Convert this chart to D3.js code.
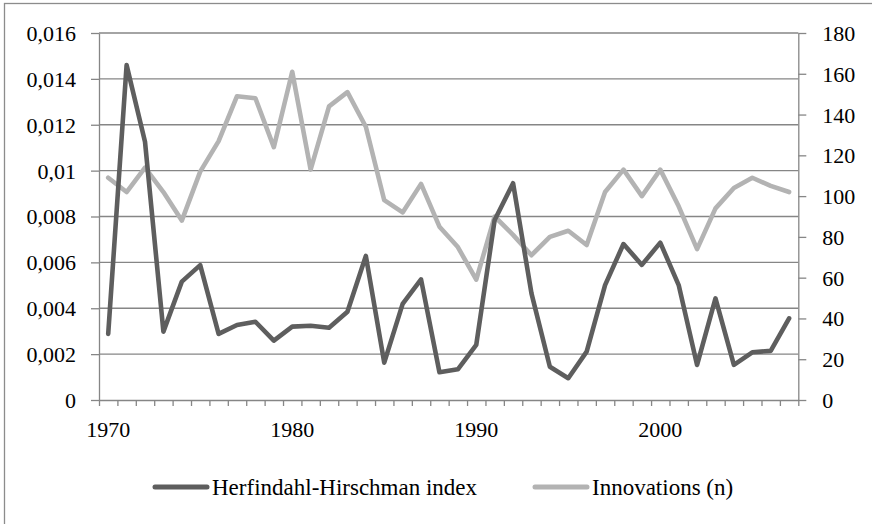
<!DOCTYPE html>
<html lang="en">
<head>
<meta charset="UTF-8">
<title>HHI and innovations</title>
<script src="https://d3js.org/d3.v7.min.js"></script>
<style>
  html, body { margin: 0; padding: 0; background: white; }
  body { font-family: "Liberation Serif", "Times New Roman", "DejaVu Serif", Times, serif; }
  .axis text { font-family: "Liberation Serif", "Times New Roman", "DejaVu Serif", Times, serif; font-size: 22px; fill: #000; }
  .axis path, .axis line { stroke: #868686; stroke-width: 1.3px; }
  .grid line { stroke: #868686; stroke-width: 1.3px; }
  .legend text { font-family: "Liberation Serif", "Times New Roman", "DejaVu Serif", Times, serif; font-size: 23px; fill: #000; }
</style>
</head>
<body>
<div id="chart"></div>
<script>

// ---------- data ----------
var years = [1970, 1971, 1972, 1973, 1974, 1975, 1976, 1977, 1978, 1979,
             1980, 1981, 1982, 1983, 1984, 1985, 1986, 1987, 1988, 1989,
             1990, 1991, 1992, 1993, 1994, 1995, 1996, 1997, 1998, 1999,
             2000, 2001, 2002, 2003, 2004, 2005, 2006, 2007];

var hhi = [0.00288, 0.0146, 0.01126, 0.00298, 0.00516, 0.00588, 0.00288, 0.00327, 0.00341, 0.00259,
           0.0032, 0.00324, 0.00315, 0.00385, 0.00628, 0.00163, 0.00419, 0.00526, 0.00121, 0.00134,
           0.0024, 0.00785, 0.00945, 0.00465, 0.00145, 0.00095, 0.00211, 0.00501, 0.0068, 0.00589,
           0.00686, 0.00501, 0.00153, 0.00443, 0.00153, 0.00208, 0.00214, 0.00356];

var innovations = [109, 102, 114, 102, 88, 112, 127, 149, 148, 124,
                   161, 113, 144, 151, 134, 98, 92, 106, 85, 75,
                   59, 90, 81, 71, 80, 83, 76, 102, 113, 100,
                   113, 95, 74, 94, 104, 109, 105, 102];

var leftTicks = [0, 0.002, 0.004, 0.006, 0.008, 0.01, 0.012, 0.014, 0.016];
var rightTicks = [0, 20, 40, 60, 80, 100, 120, 140, 160, 180];
var yearLabels = [1970, 1980, 1990, 2000];

var seriesNames = ["Herfindahl-Hirschman index", "Innovations (n)"];
var seriesColors = ["#5e5e5e", "#b3b3b3"];

// ---------- size ----------
var totalWidth = 872, totalHeight = 524;
var plot = {left: 99, right: 798.3, top: 33, bottom: 400};

var svg = d3.select("#chart").append("svg")
  .attr("width", totalWidth)
  .attr("height", totalHeight);

// outer frame (cropped at right / bottom like the source)
svg.append("rect")
  .attr("x", 4.5).attr("y", 3.5)
  .attr("width", 900).attr("height", 560)
  .attr("fill", "white")
  .attr("stroke", "#8c8c8c")
  .attr("stroke-width", 1.3);

// ---------- scales ----------
var x = d3.scaleBand().domain(years).range([plot.left, plot.right]).padding(0);
var xEdge = d3.scaleLinear().domain([0, years.length]).range([plot.left, plot.right]);
var yL = d3.scaleLinear().domain([0, 0.016]).range([plot.bottom, plot.top]);
var yR = d3.scaleLinear().domain([0, 180]).range([plot.bottom, plot.top]);

// ---------- grid ----------
svg.append("g").attr("class", "grid")
  .selectAll("line").data(leftTicks.slice(1)).join("line")
  .attr("x1", plot.left).attr("x2", plot.right)
  .attr("y1", d => yL(d)).attr("y2", d => yL(d));

// ---------- axes ----------
var fmt = d => d === 0 ? "0" : String(+d.toFixed(3)).replace(".", ",");

function serif(g) {
  g.attr("font-family", null).attr("font-size", null);
}

svg.append("g").attr("class", "axis")
  .attr("transform", `translate(${plot.left},0)`)
  .call(d3.axisLeft(yL).tickValues(leftTicks).tickFormat(fmt).tickSize(8).tickPadding(15).tickSizeOuter(0))
  .call(serif)
  .selectAll("text").attr("dy", "0.34em");

svg.append("g").attr("class", "axis")
  .attr("transform", `translate(${plot.right},0)`)
  .call(d3.axisRight(yR).tickValues(rightTicks).tickSize(8).tickPadding(16).tickSizeOuter(0))
  .call(serif)
  .selectAll("text").attr("dy", "0.34em");

svg.append("g").attr("class", "axis")
  .attr("transform", `translate(0,${plot.bottom})`)
  .call(d3.axisBottom(xEdge).ticks(years.length).tickFormat("").tickSize(6).tickSizeOuter(0));

var xLab = svg.append("g").attr("class", "axis")
  .attr("transform", `translate(0,${plot.bottom})`)
  .call(d3.axisBottom(x).tickValues(yearLabels).tickSize(0).tickPadding(21))
  .call(serif);
xLab.select(".domain").remove();

// ---------- lines ----------
var lineL = d3.line().x((d, i) => x(years[i]) + x.bandwidth() / 2).y(d => yL(d));
var lineR = d3.line().x((d, i) => x(years[i]) + x.bandwidth() / 2).y(d => yR(d));

svg.append("path").datum(innovations)
  .attr("d", lineR)
  .attr("fill", "none")
  .attr("stroke", seriesColors[1])
  .attr("stroke-width", 4.6)
  .attr("stroke-linejoin", "round")
  .attr("stroke-linecap", "round");

svg.append("path").datum(hhi)
  .attr("d", lineL)
  .attr("fill", "none")
  .attr("stroke", seriesColors[0])
  .attr("stroke-width", 4.6)
  .attr("stroke-linejoin", "round")
  .attr("stroke-linecap", "round");

// ---------- legend ----------
var legendY = 487;
var legendX = [155, 535];
var legend = svg.append("g").attr("class", "legend");
seriesNames.forEach(function(name, i) {
  legend.append("line")
    .attr("x1", legendX[i]).attr("x2", legendX[i] + 52)
    .attr("y1", legendY).attr("y2", legendY)
    .attr("stroke", seriesColors[i])
    .attr("stroke-width", 5)
    .attr("stroke-linecap", "round");
  legend.append("text")
    .attr("x", legendX[i] + 57)
    .attr("y", legendY)
    .attr("dy", "0.34em")
    .text(name);
});

</script>
</body>
</html>
